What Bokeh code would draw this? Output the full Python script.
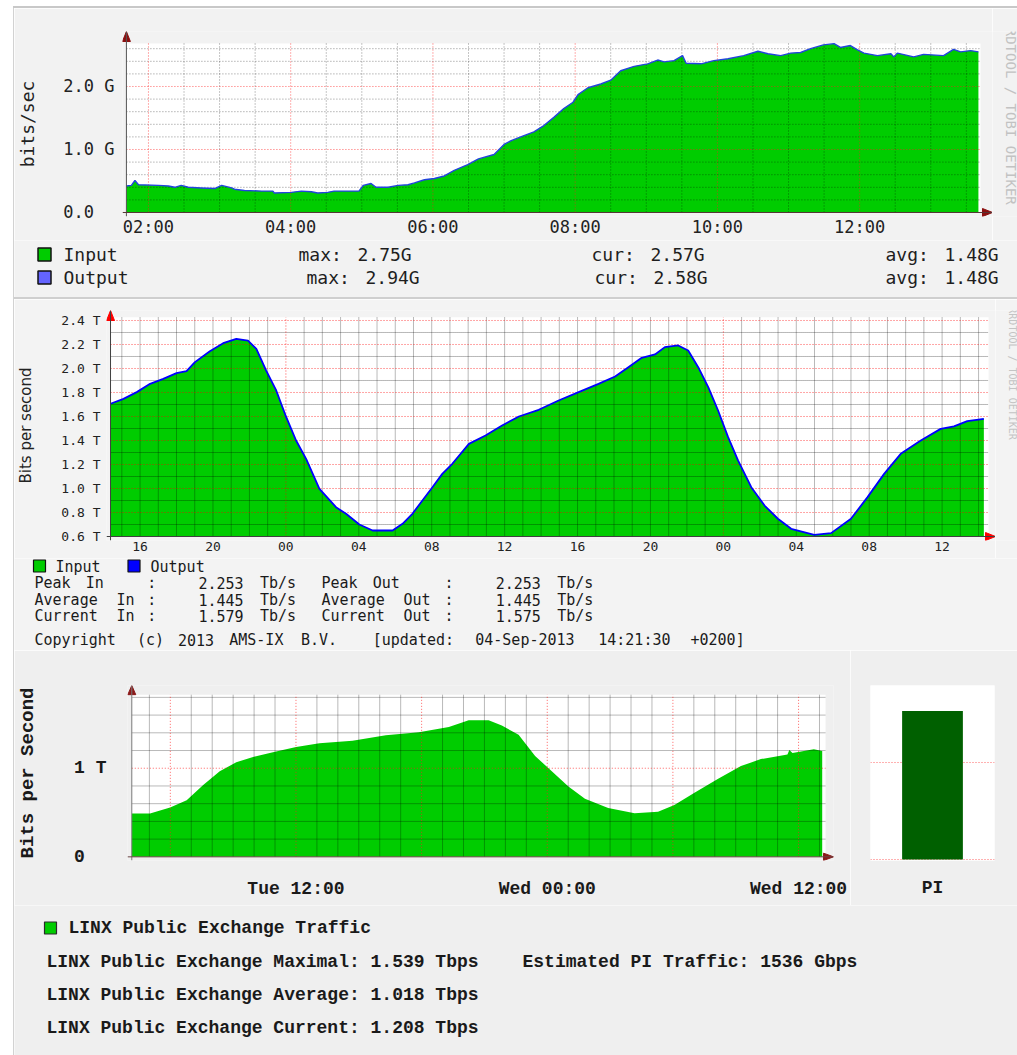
import math
import re
from bokeh.plotting import figure
from bokeh.models import Range1d, FactorRange, FixedTicker, Grid, BoxAnnotation, Span, Spacer
from bokeh.layouts import row, column
from bokeh.core.properties import value
from bokeh.embed import file_html
from bokeh.resources import INLINE

# ---------------------------------------------------------------- data
# Panel 1: time of day (hours), traffic in Gbit/s
P1_HOURS = [1.69, 1.76, 1.81, 1.86, 2.14, 2.28, 2.37, 2.46, 2.56, 2.74, 2.93,
            3.03, 3.17, 3.21, 3.35, 3.59, 3.75, 3.77, 4.01, 4.15, 4.29, 4.38,
            4.52, 4.61, 4.96, 5.02, 5.13, 5.20, 5.37, 5.51, 5.65, 5.74, 5.88,
            6.02, 6.16, 6.30, 6.49, 6.64, 6.86, 7.00, 7.10, 7.28, 7.42, 7.56,
            7.70, 7.84, 7.97, 8.04, 8.18, 8.36, 8.50, 8.64, 8.83, 9.02, 9.16,
            9.25, 9.39, 9.51, 9.56, 9.77, 9.95, 10.15, 10.37, 10.57, 10.71,
            10.89, 11.03, 11.17, 11.31, 11.49, 11.64, 11.73, 11.87, 11.97,
            12.06, 12.25, 12.44, 12.48, 12.53, 12.76, 12.90, 13.18, 13.32,
            13.42, 13.56, 13.67]
P1_INPUT = [0.42, 0.43, 0.51, 0.44, 0.43, 0.42, 0.40, 0.43, 0.40, 0.39, 0.38,
            0.43, 0.39, 0.37, 0.35, 0.34, 0.34, 0.31, 0.32, 0.34, 0.33, 0.31,
            0.32, 0.34, 0.34, 0.43, 0.46, 0.40, 0.40, 0.43, 0.44, 0.47, 0.52,
            0.54, 0.58, 0.67, 0.76, 0.85, 0.92, 1.08, 1.14, 1.22, 1.28, 1.38,
            1.51, 1.65, 1.75, 1.87, 1.98, 2.04, 2.10, 2.25, 2.32, 2.36, 2.42,
            2.39, 2.41, 2.49, 2.37, 2.36, 2.41, 2.44, 2.49, 2.56, 2.52,
            2.49, 2.53, 2.54, 2.60, 2.66, 2.68, 2.62, 2.65, 2.58,
            2.53, 2.49, 2.52, 2.47, 2.53, 2.47, 2.51, 2.49, 2.59,
            2.55, 2.57, 2.55]
P1_OUTPUT = [0.42, 0.43, 0.51, 0.44, 0.43, 0.42, 0.40, 0.43, 0.40, 0.39, 0.38,
             0.43, 0.39, 0.37, 0.35, 0.34, 0.34, 0.31, 0.32, 0.34, 0.33, 0.31,
             0.32, 0.34, 0.34, 0.43, 0.46, 0.40, 0.40, 0.43, 0.44, 0.47, 0.52,
             0.54, 0.58, 0.67, 0.76, 0.85, 0.92, 1.08, 1.14, 1.22, 1.28, 1.38,
             1.51, 1.65, 1.75, 1.87, 1.98, 2.04, 2.10, 2.25, 2.32, 2.36, 2.42,
             2.39, 2.41, 2.49, 2.37, 2.36, 2.41, 2.44, 2.49, 2.56, 2.52,
             2.49, 2.53, 2.54, 2.60, 2.66, 2.68, 2.62, 2.65, 2.58,
             2.53, 2.49, 2.52, 2.47, 2.53, 2.47, 2.51, 2.49, 2.59,
             2.55, 2.57, 2.55]
P1_X_TICKS = [2, 4, 6, 8, 10, 12]
P1_X_LABELS = ["02:00", "04:00", "06:00", "08:00", "10:00", "12:00"]
P1_Y_TICKS = [0, 1, 2]
P1_Y_LABELS = ["0.0\u00a0\u00a0", "1.0 G", "2.0 G"]
P1_SERIES = ["Input", "Output"]
P1_MAX = ["2.75G", "2.94G"]
P1_CUR = ["2.57G", "2.58G"]
P1_AVG = ["1.48G", "1.48G"]

# Panel 2: hours from 3 Sep 00:00, traffic in Tbit/s
P2_HOURS = [-9.62, -8.91, -8.18, -7.45, -6.73, -6.00, -5.45, -4.99, -4.17, -3.44,
            -2.72, -2.08, -1.62, -1.08, -0.53, 0.02, 0.56, 1.11, 1.84, 2.75,
            3.30, 4.03, 4.76, 5.85, 6.40, 6.94, 7.49, 8.04, 8.58, 9.13,
            10.04, 10.95, 11.86, 12.78, 13.87, 14.96, 16.06, 17.15, 18.06, 18.79,
            19.52, 20.25, 20.79, 21.52, 22.07, 22.62, 23.17, 23.71, 24.26, 24.81,
            25.53, 26.26, 26.99, 27.72, 28.99, 29.91, 31.00, 31.91, 32.82, 33.73,
            34.83, 35.92, 36.65, 37.38, 38.29]
P2_INPUT = [1.706, 1.747, 1.803, 1.872, 1.914, 1.961, 1.978, 2.053, 2.144, 2.211,
            2.247, 2.233, 2.164, 1.983, 1.817, 1.594, 1.400, 1.247, 0.997, 0.844,
            0.789, 0.700, 0.650, 0.650, 0.706, 0.789, 0.900, 1.011, 1.122, 1.206,
            1.372, 1.442, 1.525, 1.600, 1.656, 1.733, 1.803, 1.872, 1.933, 2.011,
            2.089, 2.117, 2.178, 2.192, 2.150, 2.011, 1.844, 1.650, 1.428, 1.233,
            1.011, 0.858, 0.748, 0.664, 0.614, 0.628, 0.748, 0.928, 1.122, 1.289,
            1.400, 1.497, 1.517, 1.561, 1.581]
P2_OUTPUT = [1.706, 1.747, 1.803, 1.872, 1.914, 1.961, 1.978, 2.053, 2.144, 2.211,
             2.247, 2.233, 2.164, 1.983, 1.817, 1.594, 1.400, 1.247, 0.997, 0.844,
             0.789, 0.700, 0.650, 0.650, 0.706, 0.789, 0.900, 1.011, 1.122, 1.206,
             1.372, 1.442, 1.525, 1.600, 1.656, 1.733, 1.803, 1.872, 1.933, 2.011,
             2.089, 2.117, 2.178, 2.192, 2.150, 2.011, 1.844, 1.650, 1.428, 1.233,
             1.011, 0.858, 0.748, 0.664, 0.614, 0.628, 0.748, 0.928, 1.122, 1.289,
             1.400, 1.497, 1.517, 1.561, 1.581]
P2_X_TICKS = [-8, -4, 0, 4, 8, 12, 16, 20, 24, 28, 32, 36]
P2_X_LABELS = ["16", "20", "00", "04", "08", "12", "16", "20", "00", "04", "08", "12"]
P2_Y_TICKS = [0.6, 0.8, 1.0, 1.2, 1.4, 1.6, 1.8, 2.0, 2.2, 2.4]
P2_Y_LABELS = ["0.6 T", "0.8 T", "1.0 T", "1.2 T", "1.4 T", "1.6 T", "1.8 T",
               "2.0 T", "2.2 T", "2.4 T"]
P2_SERIES = ["Input", "Output"]
P2_PEAK = ["2.253", "2.253"]
P2_AVG = ["1.445", "1.445"]
P2_CUR = ["1.579", "1.575"]
P2_FOOT = "Copyright (c) 2013 AMS-IX B.V.   [updated: 04-Sep-2013 14:21:30 +0200]"

# Panel 3: hours from Tue 00:00, traffic in Tbit/s
P3_HOURS = [4.16, 5.03, 5.99, 6.78, 7.57, 8.36, 9.15, 9.95, 11.05, 12.01,
            13.12, 14.70, 16.29, 17.87, 19.30, 20.25, 21.20, 21.83, 22.63, 23.42,
            24.06, 25.01, 25.80, 26.91, 28.17, 29.29, 30.07, 31.03, 32.14, 33.25,
            34.20, 35.47, 35.56, 35.71, 36.73, 37.13]
P3_TRAFFIC = [0.489, 0.489, 0.558, 0.638, 0.810, 0.965, 1.068, 1.127, 1.189, 1.241,
              1.282, 1.310, 1.372, 1.406, 1.465, 1.541, 1.541, 1.482, 1.379, 1.138,
              1.000, 0.793, 0.655, 0.551, 0.493, 0.510, 0.586, 0.724, 0.879, 1.024,
              1.103, 1.155, 1.207, 1.172, 1.213, 1.196]
P3_X_TICKS = [12, 24, 36]
P3_X_LABELS = ["Tue 12:00", "Wed 00:00", "Wed 12:00"]
P3_Y_TICKS = [0, 1]
P3_Y_LABELS = ["0\u00a0\u00a0", "1 T"]
PI_CATS = ["PI"]
PI_VALUES = [1.536]
P3_LEGEND = "LINX Public Exchange Traffic"
P3_STATS = ["LINX Public Exchange Maximal: 1.539 Tbps",
            "LINX Public Exchange Average: 1.018 Tbps",
            "LINX Public Exchange Current: 1.208 Tbps"]
PI_TEXT = "Estimated PI Traffic: 1536 Gbps"
WATERMARK = "RRDTOOL / TOBI OETIKER"

# ---------------------------------------------------------------- style
MONO = "DejaVu Sans Mono"
SANS = "DejaVu Sans"
LMONO = "Liberation Mono"
BG1, BG2, BG3 = "#f2f2f2", "#f3f3f3", "#efefef"
GREEN = "#00cc00"
PANEL_W = 1003          # panels span x = 14 .. 1017


def chart(width, height, xr, yr, borders, bg):
    l, r, t, b = borders
    p = figure(width=width, height=height, x_range=Range1d(*xr), y_range=Range1d(*yr),
               output_backend="svg", toolbar_location=None,
               min_border_left=l, min_border_right=r, min_border_top=t, min_border_bottom=b,
               background_fill_color=bg, border_fill_color=bg, outline_line_color=None)
    p.grid.visible = False
    for ax in (p.xaxis[0], p.yaxis[0]):
        ax.axis_line_color = None
        ax.major_tick_line_color = None
        ax.minor_tick_line_color = None
        ax.major_tick_out = 0
        ax.major_tick_in = 0
        ax.minor_tick_out = 0
        ax.minor_tick_in = 0
    return p


def axis_style(ax, ticks, labels, font, size, color, standoff, bold=False):
    ax.ticker = FixedTicker(ticks=ticks, minor_ticks=[])
    ax.major_label_overrides = dict(zip(ticks, labels))
    ax.major_label_text_font = font
    ax.major_label_text_font_size = size
    ax.major_label_text_color = color
    ax.major_label_standoff = standoff
    ax.major_label_text_font_style = "bold" if bold else "normal"


def gridlines(p, dim, ticks, lo, hi, color, alpha, dash):
    """Grid lines at the tick positions, drawn over the filled area (as RRDtool does)."""
    if dim == 0:
        xs = [[t, t] for t in ticks]
        ys = [[lo, hi] for _ in ticks]
    else:
        xs = [[lo, hi] for _ in ticks]
        ys = [[t, t] for t in ticks]
    p.multi_line(xs, ys, line_color=color, line_alpha=alpha, line_dash=dash, line_width=1)


def canvas(w, h, x0, y0, bg):
    return figure(width=w, height=h, x_range=Range1d(x0, x0 + w), y_range=Range1d(y0 + h, y0),
                  x_axis_type=None, y_axis_type=None, output_backend="svg",
                  toolbar_location=None, min_border=0, background_fill_color=bg,
                  border_fill_color=bg, outline_line_color=None)


def put(p, xs, ys, texts, font, size, color, bold=False, align="left", angle=0.0):
    p.text(x=xs, y=ys, text=texts, text_font=value(font), text_font_size=size,
           text_color=color, text_font_style="bold" if bold else "normal",
           text_align=align, text_baseline="middle", angle=angle)


def tokens(line, x0, cw):
    xs, ts = [], []
    for m in re.finditer(r"\S+", line):
        xs.append(x0 + m.start() * cw)
        ts.append(m.group())
    return xs, ts


def arrows(p, x_axis, y_axis, x_end, y_end, pxx, pxy, color):
    p.patch([x_axis - 4 / pxx, x_axis, x_axis + 4 / pxx],
            [y_end - 10 / pxy, y_end, y_end - 10 / pxy], fill_color=color, line_color=color)
    p.patch([x_end - 10 / pxx, x_end, x_end - 10 / pxx],
            [y_axis - 4 / pxy, y_axis, y_axis + 4 / pxy], fill_color=color, line_color=color)


# ================================================================ panel 1
PX1_X, PX1_Y = 71.2, 63.0
X1 = (1.635, 13.868)
Y1 = (-0.0635, 2.873)
p1 = chart(978, 232, X1, Y1, (107, 0, 23, 24), BG1)
x0 = P1_HOURS[0]
W1_RIGHT, W1_TOP = 13.70, 2.683
p1.add_layout(BoxAnnotation(left=x0, right=W1_RIGHT, bottom=0, top=W1_TOP, fill_color="white",
                            fill_alpha=1.0, line_color=None, level="underlay"))
p1.varea(x=P1_HOURS, y1=0, y2=P1_INPUT, fill_color=GREEN)
gridlines(p1, 0, [h / 2 for h in range(5, 28) if h % 4 != 0], 0, W1_TOP, "#000000", 0.45, "1 2")
gridlines(p1, 1, [0.2, 0.4, 0.6, 0.8, 1.2, 1.4, 1.6, 1.8, 2.2, 2.4, 2.6], x0, W1_RIGHT,
          "#000000", 0.45, "1 2")
gridlines(p1, 0, P1_X_TICKS, 0, W1_TOP, "#ff2020", 0.7, "1 2")
gridlines(p1, 1, P1_Y_TICKS[1:], x0, W1_RIGHT, "#ff2020", 0.7, "1 2")
p1.line(P1_HOURS, P1_OUTPUT, line_color="#2244dd", line_width=1.4)
p1.add_layout(Span(location=x0, dimension="height", line_color="#555555", line_width=1))
p1.add_layout(Span(location=0, dimension="width", line_color="#553535", line_width=1))
arrows(p1, x0, 0, X1[1], Y1[1], PX1_X, PX1_Y, "#8b1010")
axis_style(p1.xaxis[0], P1_X_TICKS, P1_X_LABELS, MONO, "17px", "#222222", 0)
axis_style(p1.yaxis[0], P1_Y_TICKS, P1_Y_LABELS, MONO, "17px", "#222222", 8)
p1.yaxis[0].axis_label = "bits/sec"
p1.yaxis[0].axis_label_text_font = MONO
p1.yaxis[0].axis_label_text_font_size = "18px"
p1.yaxis[0].axis_label_text_font_style = "normal"
p1.yaxis[0].axis_label_text_color = "#222222"
p1.yaxis[0].axis_label_standoff = 22

w1 = canvas(25, 232, 992, 8, BG1)
put(w1, [1010], [109], [WATERMARK], MONO, "14px", "#c2c2c2", align="center", angle=-math.pi / 2)

l1 = canvas(PANEL_W, 57, 14, 240, BG1)
l1.rect(x=[44, 44], y=[254, 277], width=13, height=13, fill_color=[GREEN, "#6464ff"],
        line_color="#111111", line_width=1.5)
put(l1, [63, 63], [254, 277], P1_SERIES, MONO, "18px", "#1e1e1e")
for i, yy in enumerate([254, 277]):
    for xs0, lab, val in (([298, 306][i], "max:", P1_MAX[i]), ([591, 594][i], "cur:", P1_CUR[i]),
                          (885, "avg:", P1_AVG[i])):
        xs, ts = tokens(f"{lab} {val}", xs0, 11.8)
        put(l1, xs, [yy] * len(ts), ts, MONO, "18px", "#1e1e1e")

# ================================================================ panel 2
PX2_X, PX2_Y = 18.29, 120.0
X2 = (-9.841, 38.929)
Y2 = (0.5667, 2.4833)
p2 = chart(981, 259, X2, Y2, (89, 0, 11, 18), BG2)
x0 = P2_HOURS[0]
W2_RIGHT, W2_TOP = 38.55, 2.427
p2.add_layout(BoxAnnotation(left=x0, right=W2_RIGHT, bottom=0.6, top=W2_TOP, fill_color="white",
                            fill_alpha=1.0, line_color=None, level="underlay"))
p2.varea(x=P2_HOURS, y1=0.6, y2=P2_INPUT, fill_color=GREEN)
gridlines(p2, 0, [h for h in range(-9, 39) if h % 24 != 0], 0.6, W2_TOP, "#000000", 0.55, "1 1")
gridlines(p2, 1, [0.7, 0.9, 1.1, 1.3, 1.5, 1.7, 1.9, 2.1, 2.3], x0, W2_RIGHT, "#000000", 0.55, "1 1")
gridlines(p2, 0, [0, 24], 0.6, W2_TOP, "#ff0000", 0.7, "1 2")
gridlines(p2, 1, P2_Y_TICKS[1:], x0, W2_RIGHT, "#ff0000", 0.7, "1 2")
p2.line(P2_HOURS, P2_OUTPUT, line_color="#0000ff", line_width=1.8)
p2.add_layout(Span(location=x0, dimension="height", line_color="#404040", line_width=1))
p2.add_layout(Span(location=0.6, dimension="width", line_color="#404040", line_width=1))
arrows(p2, x0, 0.6, X2[1], Y2[1], PX2_X, PX2_Y, "#ff0000")
axis_style(p2.xaxis[0], P2_X_TICKS, P2_X_LABELS, MONO, "13px", "#222222", 1)
axis_style(p2.yaxis[0], P2_Y_TICKS, P2_Y_LABELS, MONO, "13px", "#222222", 6)
p2.yaxis[0].axis_label = "Bits per second"
p2.yaxis[0].axis_label_text_font = SANS
p2.yaxis[0].axis_label_text_font_size = "15px"
p2.yaxis[0].axis_label_text_font_style = "normal"
p2.yaxis[0].axis_label_text_color = "#222222"
p2.yaxis[0].axis_label_standoff = 23

w2 = canvas(22, 259, 995, 299, BG2)
put(w2, [1012], [370], [WATERMARK], MONO, "10px", "#c4c4c4", align="center", angle=-math.pi / 2)

l2 = canvas(PANEL_W, 92, 14, 558, BG2)
l2.rect(x=[39, 133.5], y=[565.5, 565.5], width=12, height=12, fill_color=[GREEN, "#0000ff"],
        line_color="#111111", line_width=1.2)
put(l2, [55, 150], [566, 566], P2_SERIES, MONO, "15px", "#1a1a1a")
lines2 = [
    f"Peak In    :    {P2_PEAK[0]} Tb/s  Peak Out    :    {P2_PEAK[1]} Tb/s",
    f"Average In :    {P2_AVG[0]} Tb/s  Average Out :    {P2_AVG[1]} Tb/s",
    f"Current In :    {P2_CUR[0]} Tb/s  Current Out :    {P2_CUR[1]} Tb/s",
    P2_FOOT,
]
for line, yy in zip(lines2, [582.7, 599, 615.3, 639.3]):
    xs, ts = tokens(line, 34, 10.25)
    put(l2, xs, [yy] * len(ts), ts, MONO, "15px", "#1a1a1a")

# ================================================================ panel 3
PX3_X, PX3_Y = 21.03, 96.7
X3 = (3.955, 37.669)
Y3 = (-0.0414, 1.934)
p3 = chart(836, 255, X3, Y3, (110, 17, 23, 41), BG3)
x0 = P3_HOURS[0]
W3_RIGHT, W3_TOP = 37.29, 1.83
p3.add_layout(BoxAnnotation(left=x0, right=W3_RIGHT, bottom=0, top=W3_TOP, fill_color="white",
                            fill_alpha=1.0, line_color=None, level="underlay"))
p3.varea(x=P3_HOURS, y1=0, y2=P3_TRAFFIC, fill_color=GREEN)
gridlines(p3, 0, [h for h in range(5, 38) if h % 6 != 0], 0, W3_TOP, "#000000", 0.28, "")
gridlines(p3, 1, [0.2, 0.4, 0.6, 0.8, 1.2, 1.4, 1.6, 1.8], x0, W3_RIGHT, "#000000", 0.28, "")
gridlines(p3, 0, [6, 12, 18, 24, 30, 36], 0, W3_TOP, "#ff2020", 0.7, "1 2")
gridlines(p3, 1, P3_Y_TICKS[1:], x0, W3_RIGHT, "#ff2020", 0.7, "1 2")
p3.add_layout(Span(location=x0, dimension="height", line_color="#7a7a7a", line_width=1))
p3.add_layout(Span(location=0, dimension="width", line_color="#6a4545", line_width=1))
arrows(p3, x0, 0, X3[1], Y3[1], PX3_X, PX3_Y, "#8b1a1a")
axis_style(p3.xaxis[0], P3_X_TICKS, P3_X_LABELS, LMONO, "18px", "#1a1a1a", 18, bold=True)
axis_style(p3.yaxis[0], P3_Y_TICKS, P3_Y_LABELS, LMONO, "18px", "#1a1a1a", 21, bold=True)
p3.yaxis[0].axis_label = "Bits per Second"
p3.yaxis[0].axis_label_text_font = LMONO
p3.yaxis[0].axis_label_text_font_size = "19px"
p3.yaxis[0].axis_label_text_font_style = "bold"
p3.yaxis[0].axis_label_text_color = "#1a1a1a"
p3.yaxis[0].axis_label_standoff = 32

pi = figure(width=167, height=255, x_range=FactorRange(factors=PI_CATS),
            y_range=Range1d(-0.01, 1.80), y_axis_type=None, output_backend="svg",
            toolbar_location=None, min_border_left=20, min_border_right=23,
            min_border_top=35, min_border_bottom=45, background_fill_color="white",
            border_fill_color=BG3, outline_line_color=None)
pi.xgrid.visible = False
pi.add_layout(Grid(dimension=1, ticker=FixedTicker(ticks=[0, 1]), grid_line_color="#ff2020",
                   grid_line_alpha=0.7, grid_line_dash="1 2"))
pi.vbar(x=PI_CATS, top=PI_VALUES, bottom=0, width=0.49, fill_color="#006000", line_color=None)
pax = pi.xaxis[0]
pax.axis_line_color = None
pax.major_tick_line_color = None
pax.minor_tick_line_color = None
pax.major_tick_out = 0
pax.major_tick_in = 0
pax.major_label_text_font = LMONO
pax.major_label_text_font_size = "18px"
pax.major_label_text_font_style = "bold"
pax.major_label_text_color = "#1a1a1a"
pax.major_label_standoff = 17

l3 = canvas(PANEL_W, 150, 14, 905, BG3)
l3.rect(x=[50], y=[927.5], width=12, height=12, fill_color=GREEN, line_color="#2a2a2a", line_width=1.2)
put(l3, [68], [927], [P3_LEGEND], LMONO, "18px", "#1a1a1a", bold=True)
put(l3, [46, 46, 46], [961.5, 994.5, 1027.5], P3_STATS, LMONO, "18px", "#1a1a1a", bold=True)
put(l3, [522], [961.5], [PI_TEXT], LMONO, "18px", "#1a1a1a", bold=True)

# ================================================================ layout
panel1 = column(row(p1, w1), l1)
sep = Spacer(width=PANEL_W, height=2, styles={"background-color": "#cfcfcf"})
panel2 = column(row(p2, w2), l2)
panel3 = column(row(p3, pi), l3)
panels = column(panel1, sep, panel2, panel3)
body = column(Spacer(width=PANEL_W + 1, height=6),
              Spacer(width=PANEL_W + 1, height=2, styles={"background-color": "#c8c8c8"}),
              row(Spacer(width=1, height=1047, styles={"background-color": "#d2d2d2"}), panels))
root = row(Spacer(width=13, height=1055), body)

open("out.html", "w").write(file_html(root, INLINE))
